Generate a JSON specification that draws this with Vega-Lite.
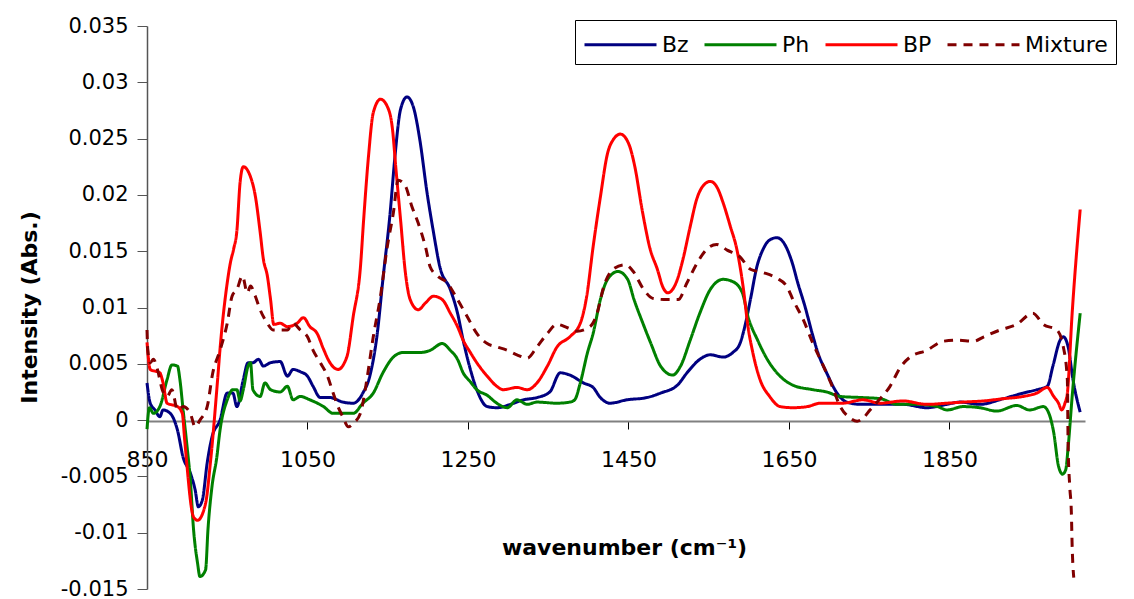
{
"$schema": "https://vega.github.io/schema/vega-lite/v6.json",
"width": 938, "height": 563,
"autosize": {"type": "none"},
"padding": {"left": 147, "top": 26, "right": 49, "bottom": 10},
"background": "white",
"config": {"view": {"stroke": null}, "font": "DejaVu Sans"},
"data": {"values": [
{"series":"Bz","wn":850,"abs":0.0033},{"series":"Bz","wn":854,"abs":0.0015},{"series":"Bz","wn":860,"abs":0.0009},{"series":"Bz","wn":866,"abs":0.0003},{"series":"Bz","wn":870,"abs":0.0009},{"series":"Bz","wn":879,"abs":0.0006},{"series":"Bz","wn":888,"abs":-0.0009},{"series":"Bz","wn":895,"abs":-0.0033},{"series":"Bz","wn":904,"abs":-0.0047},{"series":"Bz","wn":910,"abs":-0.0062},{"series":"Bz","wn":914,"abs":-0.0077},{"series":"Bz","wn":919,"abs":-0.0071},{"series":"Bz","wn":925,"abs":-0.0038},{"series":"Bz","wn":931,"abs":-0.0015},{"series":"Bz","wn":941,"abs":0.0},{"series":"Bz","wn":950,"abs":0.0024},{"series":"Bz","wn":957,"abs":0.0024},{"series":"Bz","wn":962,"abs":0.0012},{"series":"Bz","wn":970,"abs":0.0036},{"series":"Bz","wn":976,"abs":0.0051},{"series":"Bz","wn":982,"abs":0.0051},{"series":"Bz","wn":989,"abs":0.0054},{"series":"Bz","wn":995,"abs":0.0048},{"series":"Bz","wn":1004,"abs":0.0051},{"series":"Bz","wn":1016,"abs":0.0052},{"series":"Bz","wn":1025,"abs":0.0039},{"series":"Bz","wn":1032,"abs":0.0045},{"series":"Bz","wn":1041,"abs":0.0043},{"series":"Bz","wn":1050,"abs":0.0039},{"series":"Bz","wn":1057,"abs":0.003},{"series":"Bz","wn":1066,"abs":0.002},{"series":"Bz","wn":1078,"abs":0.002},{"series":"Bz","wn":1094,"abs":0.0016},{"series":"Bz","wn":1107,"abs":0.0015},{"series":"Bz","wn":1119,"abs":0.0024},{"series":"Bz","wn":1128,"abs":0.004},{"series":"Bz","wn":1137,"abs":0.0077},{"series":"Bz","wn":1144,"abs":0.0125},{"series":"Bz","wn":1153,"abs":0.0184},{"series":"Bz","wn":1159,"abs":0.0234},{"series":"Bz","wn":1166,"abs":0.0276},{"series":"Bz","wn":1174,"abs":0.0287},{"series":"Bz","wn":1182,"abs":0.0278},{"series":"Bz","wn":1190,"abs":0.0249},{"series":"Bz","wn":1199,"abs":0.0202},{"series":"Bz","wn":1207,"abs":0.0167},{"series":"Bz","wn":1215,"abs":0.0136},{"series":"Bz","wn":1228,"abs":0.0116},{"series":"Bz","wn":1237,"abs":0.0095},{"series":"Bz","wn":1244,"abs":0.0071},{"series":"Bz","wn":1253,"abs":0.0045},{"series":"Bz","wn":1261,"abs":0.0027},{"series":"Bz","wn":1274,"abs":0.0012},{"series":"Bz","wn":1286,"abs":0.0011},{"series":"Bz","wn":1303,"abs":0.0014},{"series":"Bz","wn":1319,"abs":0.0018},{"series":"Bz","wn":1336,"abs":0.002},{"series":"Bz","wn":1352,"abs":0.0025},{"series":"Bz","wn":1365,"abs":0.0042},{"series":"Bz","wn":1377,"abs":0.004},{"series":"Bz","wn":1394,"abs":0.0033},{"series":"Bz","wn":1406,"abs":0.0029},{"series":"Bz","wn":1415,"abs":0.002},{"series":"Bz","wn":1427,"abs":0.0015},{"series":"Bz","wn":1448,"abs":0.0018},{"series":"Bz","wn":1473,"abs":0.002},{"series":"Bz","wn":1490,"abs":0.0024},{"series":"Bz","wn":1511,"abs":0.0031},{"series":"Bz","wn":1523,"abs":0.0042},{"series":"Bz","wn":1539,"abs":0.0054},{"series":"Bz","wn":1552,"abs":0.0058},{"series":"Bz","wn":1568,"abs":0.0056},{"series":"Bz","wn":1580,"abs":0.006},{"series":"Bz","wn":1589,"abs":0.0068},{"series":"Bz","wn":1595,"abs":0.0083},{"series":"Bz","wn":1602,"abs":0.0107},{"series":"Bz","wn":1610,"abs":0.0136},{"series":"Bz","wn":1618,"abs":0.0152},{"series":"Bz","wn":1626,"abs":0.016},{"series":"Bz","wn":1635,"abs":0.0162},{"series":"Bz","wn":1643,"abs":0.0158},{"series":"Bz","wn":1654,"abs":0.014},{"series":"Bz","wn":1661,"abs":0.0122},{"series":"Bz","wn":1670,"abs":0.0101},{"series":"Bz","wn":1679,"abs":0.0077},{"series":"Bz","wn":1686,"abs":0.006},{"series":"Bz","wn":1697,"abs":0.0042},{"series":"Bz","wn":1710,"abs":0.0024},{"series":"Bz","wn":1722,"abs":0.0016},{"series":"Bz","wn":1739,"abs":0.0014},{"series":"Bz","wn":1763,"abs":0.0014},{"series":"Bz","wn":1792,"abs":0.0014},{"series":"Bz","wn":1822,"abs":0.0011},{"series":"Bz","wn":1847,"abs":0.0014},{"series":"Bz","wn":1863,"abs":0.0016},{"series":"Bz","wn":1888,"abs":0.0014},{"series":"Bz","wn":1917,"abs":0.0019},{"series":"Bz","wn":1942,"abs":0.0024},{"series":"Bz","wn":1959,"abs":0.0027},{"series":"Bz","wn":1972,"abs":0.003},{"series":"Bz","wn":1979,"abs":0.0048},{"series":"Bz","wn":1988,"abs":0.0071},{"series":"Bz","wn":1992,"abs":0.0074},{"series":"Bz","wn":1998,"abs":0.0065},{"series":"Bz","wn":2004,"abs":0.0036},{"series":"Bz","wn":2013,"abs":0.0007},
{"series":"Ph","wn":850,"abs":-0.0008},{"series":"Ph","wn":853,"abs":0.0011},{"series":"Ph","wn":858,"abs":0.0006},{"series":"Ph","wn":866,"abs":0.0012},{"series":"Ph","wn":875,"abs":0.0036},{"series":"Ph","wn":881,"abs":0.0049},{"series":"Ph","wn":888,"abs":0.0048},{"series":"Ph","wn":891,"abs":0.0036},{"series":"Ph","wn":895,"abs":0.0009},{"series":"Ph","wn":900,"abs":-0.0024},{"series":"Ph","wn":904,"abs":-0.0053},{"series":"Ph","wn":908,"abs":-0.0097},{"series":"Ph","wn":913,"abs":-0.0127},{"series":"Ph","wn":916,"abs":-0.0139},{"series":"Ph","wn":923,"abs":-0.0133},{"series":"Ph","wn":926,"abs":-0.0097},{"series":"Ph","wn":931,"abs":-0.0059},{"series":"Ph","wn":937,"abs":-0.0033},{"series":"Ph","wn":941,"abs":-0.0009},{"series":"Ph","wn":950,"abs":0.0018},{"series":"Ph","wn":957,"abs":0.0027},{"series":"Ph","wn":962,"abs":0.0027},{"series":"Ph","wn":966,"abs":0.0017},{"series":"Ph","wn":970,"abs":0.0027},{"series":"Ph","wn":976,"abs":0.0048},{"series":"Ph","wn":979,"abs":0.0051},{"series":"Ph","wn":982,"abs":0.0027},{"series":"Ph","wn":991,"abs":0.0021},{"series":"Ph","wn":997,"abs":0.0033},{"series":"Ph","wn":1004,"abs":0.0027},{"series":"Ph","wn":1016,"abs":0.0025},{"series":"Ph","wn":1025,"abs":0.003},{"series":"Ph","wn":1032,"abs":0.0018},{"series":"Ph","wn":1041,"abs":0.0021},{"series":"Ph","wn":1053,"abs":0.0018},{"series":"Ph","wn":1070,"abs":0.0012},{"series":"Ph","wn":1082,"abs":0.0006},{"series":"Ph","wn":1094,"abs":0.0006},{"series":"Ph","wn":1107,"abs":0.0006},{"series":"Ph","wn":1119,"abs":0.0015},{"series":"Ph","wn":1132,"abs":0.0024},{"series":"Ph","wn":1144,"abs":0.0042},{"series":"Ph","wn":1157,"abs":0.0056},{"series":"Ph","wn":1169,"abs":0.006},{"series":"Ph","wn":1190,"abs":0.006},{"series":"Ph","wn":1203,"abs":0.0062},{"series":"Ph","wn":1218,"abs":0.0068},{"series":"Ph","wn":1228,"abs":0.0062},{"series":"Ph","wn":1237,"abs":0.0054},{"series":"Ph","wn":1244,"abs":0.0042},{"series":"Ph","wn":1253,"abs":0.0034},{"series":"Ph","wn":1261,"abs":0.0027},{"series":"Ph","wn":1274,"abs":0.0022},{"series":"Ph","wn":1286,"abs":0.0015},{"series":"Ph","wn":1299,"abs":0.0011},{"series":"Ph","wn":1311,"abs":0.0018},{"series":"Ph","wn":1324,"abs":0.0014},{"series":"Ph","wn":1336,"abs":0.0016},{"series":"Ph","wn":1361,"abs":0.0015},{"series":"Ph","wn":1377,"abs":0.0016},{"series":"Ph","wn":1383,"abs":0.0018},{"series":"Ph","wn":1390,"abs":0.0033},{"series":"Ph","wn":1399,"abs":0.006},{"series":"Ph","wn":1406,"abs":0.0077},{"series":"Ph","wn":1415,"abs":0.0107},{"series":"Ph","wn":1424,"abs":0.0125},{"series":"Ph","wn":1437,"abs":0.0132},{"series":"Ph","wn":1449,"abs":0.0125},{"series":"Ph","wn":1457,"abs":0.0107},{"series":"Ph","wn":1468,"abs":0.0086},{"series":"Ph","wn":1478,"abs":0.0068},{"series":"Ph","wn":1490,"abs":0.0048},{"series":"Ph","wn":1505,"abs":0.004},{"series":"Ph","wn":1515,"abs":0.0048},{"series":"Ph","wn":1527,"abs":0.0071},{"series":"Ph","wn":1539,"abs":0.0095},{"series":"Ph","wn":1552,"abs":0.0116},{"series":"Ph","wn":1568,"abs":0.0125},{"series":"Ph","wn":1580,"abs":0.0123},{"series":"Ph","wn":1592,"abs":0.0113},{"series":"Ph","wn":1599,"abs":0.0092},{"series":"Ph","wn":1611,"abs":0.0071},{"series":"Ph","wn":1623,"abs":0.0054},{"series":"Ph","wn":1639,"abs":0.0039},{"series":"Ph","wn":1655,"abs":0.0031},{"series":"Ph","wn":1680,"abs":0.0027},{"series":"Ph","wn":1697,"abs":0.0025},{"series":"Ph","wn":1714,"abs":0.0021},{"series":"Ph","wn":1742,"abs":0.002},{"series":"Ph","wn":1764,"abs":0.0019},{"series":"Ph","wn":1785,"abs":0.0014},{"series":"Ph","wn":1810,"abs":0.0014},{"series":"Ph","wn":1835,"abs":0.0012},{"series":"Ph","wn":1847,"abs":0.0009},{"series":"Ph","wn":1867,"abs":0.0012},{"series":"Ph","wn":1888,"abs":0.0011},{"series":"Ph","wn":1909,"abs":0.0008},{"series":"Ph","wn":1934,"abs":0.0013},{"series":"Ph","wn":1950,"abs":0.0009},{"series":"Ph","wn":1967,"abs":0.0012},{"series":"Ph","wn":1972,"abs":0.0009},{"series":"Ph","wn":1980,"abs":-0.0011},{"series":"Ph","wn":1986,"abs":-0.0041},{"series":"Ph","wn":1991,"abs":-0.0048},{"series":"Ph","wn":1995,"abs":-0.0044},{"series":"Ph","wn":1998,"abs":-0.0024},{"series":"Ph","wn":2003,"abs":0.0021},{"series":"Ph","wn":2013,"abs":0.0095},
{"series":"BP","wn":850,"abs":0.0069},{"series":"BP","wn":854,"abs":0.0045},{"series":"BP","wn":866,"abs":0.0042},{"series":"BP","wn":870,"abs":0.0033},{"series":"BP","wn":875,"abs":0.0015},{"series":"BP","wn":888,"abs":0.0012},{"series":"BP","wn":894,"abs":0.0006},{"series":"BP","wn":897,"abs":-0.0018},{"series":"BP","wn":908,"abs":-0.0086},{"series":"BP","wn":913,"abs":-0.0089},{"series":"BP","wn":923,"abs":-0.0074},{"series":"BP","wn":929,"abs":-0.0038},{"series":"BP","wn":938,"abs":0.0036},{"series":"BP","wn":941,"abs":0.0063},{"series":"BP","wn":950,"abs":0.0122},{"series":"BP","wn":954,"abs":0.014},{"series":"BP","wn":958,"abs":0.0152},{"series":"BP","wn":962,"abs":0.0168},{"series":"BP","wn":966,"abs":0.0211},{"series":"BP","wn":970,"abs":0.0225},{"series":"BP","wn":979,"abs":0.0216},{"series":"BP","wn":985,"abs":0.0199},{"series":"BP","wn":991,"abs":0.0167},{"series":"BP","wn":995,"abs":0.0143},{"series":"BP","wn":1000,"abs":0.0128},{"series":"BP","wn":1004,"abs":0.0107},{"series":"BP","wn":1008,"abs":0.0085},{"series":"BP","wn":1016,"abs":0.0086},{"series":"BP","wn":1025,"abs":0.0083},{"series":"BP","wn":1037,"abs":0.0086},{"series":"BP","wn":1045,"abs":0.0091},{"series":"BP","wn":1053,"abs":0.0083},{"series":"BP","wn":1062,"abs":0.0077},{"series":"BP","wn":1070,"abs":0.0063},{"series":"BP","wn":1078,"abs":0.0051},{"series":"BP","wn":1088,"abs":0.0045},{"series":"BP","wn":1099,"abs":0.0056},{"series":"BP","wn":1107,"abs":0.0092},{"series":"BP","wn":1116,"abs":0.0136},{"series":"BP","wn":1120,"abs":0.0178},{"series":"BP","wn":1126,"abs":0.0234},{"series":"BP","wn":1132,"abs":0.0273},{"series":"BP","wn":1141,"abs":0.0285},{"series":"BP","wn":1151,"abs":0.0276},{"series":"BP","wn":1156,"abs":0.0258},{"series":"BP","wn":1160,"abs":0.0225},{"series":"BP","wn":1166,"abs":0.0178},{"series":"BP","wn":1172,"abs":0.0131},{"series":"BP","wn":1178,"abs":0.0107},{"series":"BP","wn":1188,"abs":0.0098},{"series":"BP","wn":1197,"abs":0.0104},{"series":"BP","wn":1207,"abs":0.011},{"series":"BP","wn":1218,"abs":0.0107},{"series":"BP","wn":1228,"abs":0.0095},{"series":"BP","wn":1237,"abs":0.0083},{"series":"BP","wn":1244,"abs":0.0071},{"series":"BP","wn":1253,"abs":0.006},{"series":"BP","wn":1261,"abs":0.0051},{"series":"BP","wn":1274,"abs":0.0039},{"series":"BP","wn":1286,"abs":0.003},{"series":"BP","wn":1294,"abs":0.0027},{"series":"BP","wn":1311,"abs":0.0029},{"series":"BP","wn":1324,"abs":0.0027},{"series":"BP","wn":1336,"abs":0.0033},{"series":"BP","wn":1349,"abs":0.0048},{"series":"BP","wn":1361,"abs":0.0065},{"series":"BP","wn":1377,"abs":0.0074},{"series":"BP","wn":1390,"abs":0.0086},{"series":"BP","wn":1398,"abs":0.011},{"series":"BP","wn":1406,"abs":0.0154},{"series":"BP","wn":1415,"abs":0.0198},{"series":"BP","wn":1424,"abs":0.0237},{"series":"BP","wn":1431,"abs":0.0249},{"series":"BP","wn":1440,"abs":0.0254},{"series":"BP","wn":1450,"abs":0.0246},{"series":"BP","wn":1458,"abs":0.0225},{"series":"BP","wn":1467,"abs":0.0187},{"series":"BP","wn":1477,"abs":0.0152},{"series":"BP","wn":1486,"abs":0.0134},{"series":"BP","wn":1493,"abs":0.0118},{"series":"BP","wn":1499,"abs":0.0113},{"series":"BP","wn":1511,"abs":0.0125},{"series":"BP","wn":1518,"abs":0.0143},{"series":"BP","wn":1527,"abs":0.0172},{"series":"BP","wn":1535,"abs":0.0196},{"series":"BP","wn":1543,"abs":0.0208},{"series":"BP","wn":1552,"abs":0.0212},{"series":"BP","wn":1561,"abs":0.0206},{"series":"BP","wn":1568,"abs":0.0193},{"series":"BP","wn":1577,"abs":0.0172},{"series":"BP","wn":1585,"abs":0.0152},{"series":"BP","wn":1593,"abs":0.0118},{"series":"BP","wn":1599,"abs":0.0083},{"series":"BP","wn":1605,"abs":0.006},{"series":"BP","wn":1614,"abs":0.0036},{"series":"BP","wn":1626,"abs":0.0021},{"series":"BP","wn":1639,"abs":0.0012},{"series":"BP","wn":1655,"abs":0.0011},{"series":"BP","wn":1673,"abs":0.0012},{"series":"BP","wn":1689,"abs":0.0015},{"series":"BP","wn":1717,"abs":0.0015},{"series":"BP","wn":1742,"abs":0.0018},{"series":"BP","wn":1764,"abs":0.0015},{"series":"BP","wn":1792,"abs":0.0017},{"series":"BP","wn":1822,"abs":0.0014},{"series":"BP","wn":1847,"abs":0.0015},{"series":"BP","wn":1867,"abs":0.0016},{"series":"BP","wn":1892,"abs":0.0017},{"series":"BP","wn":1917,"abs":0.0019},{"series":"BP","wn":1942,"abs":0.0021},{"series":"BP","wn":1959,"abs":0.0024},{"series":"BP","wn":1972,"abs":0.0029},{"series":"BP","wn":1980,"abs":0.0021},{"series":"BP","wn":1986,"abs":0.0015},{"series":"BP","wn":1990,"abs":0.0009},{"series":"BP","wn":1994,"abs":0.0015},{"series":"BP","wn":1997,"abs":0.0024},{"series":"BP","wn":2003,"abs":0.0095},{"series":"BP","wn":2013,"abs":0.0187},
{"series":"Mixture","wn":850,"abs":0.008},{"series":"Mixture","wn":851,"abs":0.0062},{"series":"Mixture","wn":854,"abs":0.0051},{"series":"Mixture","wn":858,"abs":0.0054},{"series":"Mixture","wn":863,"abs":0.0045},{"series":"Mixture","wn":869,"abs":0.0027},{"series":"Mixture","wn":875,"abs":0.0021},{"series":"Mixture","wn":881,"abs":0.0027},{"series":"Mixture","wn":888,"abs":0.0009},{"series":"Mixture","wn":895,"abs":0.0012},{"series":"Mixture","wn":904,"abs":0.0006},{"series":"Mixture","wn":910,"abs":-0.0006},{"series":"Mixture","wn":916,"abs":0.0},{"series":"Mixture","wn":925,"abs":0.0012},{"series":"Mixture","wn":932,"abs":0.0042},{"series":"Mixture","wn":941,"abs":0.0062},{"series":"Mixture","wn":950,"abs":0.0086},{"series":"Mixture","wn":956,"abs":0.011},{"series":"Mixture","wn":962,"abs":0.0116},{"series":"Mixture","wn":969,"abs":0.0128},{"series":"Mixture","wn":975,"abs":0.0113},{"series":"Mixture","wn":979,"abs":0.0119},{"series":"Mixture","wn":985,"abs":0.011},{"series":"Mixture","wn":991,"abs":0.0098},{"series":"Mixture","wn":1000,"abs":0.0086},{"series":"Mixture","wn":1007,"abs":0.008},{"series":"Mixture","wn":1016,"abs":0.008},{"series":"Mixture","wn":1025,"abs":0.008},{"series":"Mixture","wn":1032,"abs":0.0086},{"series":"Mixture","wn":1041,"abs":0.008},{"series":"Mixture","wn":1050,"abs":0.0074},{"series":"Mixture","wn":1057,"abs":0.0062},{"series":"Mixture","wn":1066,"abs":0.0051},{"series":"Mixture","wn":1075,"abs":0.0039},{"series":"Mixture","wn":1082,"abs":0.0024},{"series":"Mixture","wn":1088,"abs":0.0012},{"series":"Mixture","wn":1094,"abs":0.0003},{"series":"Mixture","wn":1101,"abs":-0.0006},{"series":"Mixture","wn":1107,"abs":-0.0003},{"series":"Mixture","wn":1116,"abs":0.0006},{"series":"Mixture","wn":1119,"abs":0.0015},{"series":"Mixture","wn":1124,"abs":0.0036},{"series":"Mixture","wn":1132,"abs":0.0074},{"series":"Mixture","wn":1141,"abs":0.011},{"series":"Mixture","wn":1149,"abs":0.0152},{"series":"Mixture","wn":1157,"abs":0.0184},{"series":"Mixture","wn":1163,"abs":0.0213},{"series":"Mixture","wn":1172,"abs":0.0208},{"series":"Mixture","wn":1180,"abs":0.019},{"series":"Mixture","wn":1188,"abs":0.0175},{"series":"Mixture","wn":1197,"abs":0.0154},{"series":"Mixture","wn":1203,"abs":0.0136},{"series":"Mixture","wn":1212,"abs":0.0128},{"series":"Mixture","wn":1224,"abs":0.0122},{"series":"Mixture","wn":1237,"abs":0.0107},{"series":"Mixture","wn":1249,"abs":0.0092},{"series":"Mixture","wn":1261,"abs":0.0077},{"series":"Mixture","wn":1274,"abs":0.0068},{"series":"Mixture","wn":1286,"abs":0.0065},{"series":"Mixture","wn":1299,"abs":0.0062},{"series":"Mixture","wn":1311,"abs":0.0058},{"series":"Mixture","wn":1324,"abs":0.0055},{"series":"Mixture","wn":1336,"abs":0.0065},{"series":"Mixture","wn":1349,"abs":0.0077},{"series":"Mixture","wn":1361,"abs":0.0085},{"series":"Mixture","wn":1374,"abs":0.0082},{"series":"Mixture","wn":1386,"abs":0.0079},{"series":"Mixture","wn":1402,"abs":0.0083},{"series":"Mixture","wn":1411,"abs":0.0095},{"series":"Mixture","wn":1419,"abs":0.0118},{"series":"Mixture","wn":1431,"abs":0.0134},{"series":"Mixture","wn":1446,"abs":0.0138},{"series":"Mixture","wn":1456,"abs":0.0132},{"series":"Mixture","wn":1469,"abs":0.0116},{"series":"Mixture","wn":1481,"abs":0.0108},{"series":"Mixture","wn":1498,"abs":0.0107},{"series":"Mixture","wn":1512,"abs":0.0107},{"series":"Mixture","wn":1523,"abs":0.0122},{"series":"Mixture","wn":1536,"abs":0.014},{"series":"Mixture","wn":1548,"abs":0.0152},{"series":"Mixture","wn":1560,"abs":0.0156},{"series":"Mixture","wn":1573,"abs":0.0151},{"series":"Mixture","wn":1589,"abs":0.0145},{"series":"Mixture","wn":1602,"abs":0.0134},{"series":"Mixture","wn":1618,"abs":0.0131},{"series":"Mixture","wn":1635,"abs":0.0126},{"series":"Mixture","wn":1648,"abs":0.0118},{"series":"Mixture","wn":1655,"abs":0.0107},{"series":"Mixture","wn":1668,"abs":0.0089},{"series":"Mixture","wn":1680,"abs":0.0068},{"series":"Mixture","wn":1693,"abs":0.0048},{"series":"Mixture","wn":1704,"abs":0.003},{"series":"Mixture","wn":1714,"abs":0.0012},{"series":"Mixture","wn":1726,"abs":0.0002},{"series":"Mixture","wn":1735,"abs":-0.0001},{"series":"Mixture","wn":1743,"abs":0.0002},{"series":"Mixture","wn":1751,"abs":0.0009},{"series":"Mixture","wn":1760,"abs":0.0016},{"series":"Mixture","wn":1776,"abs":0.003},{"series":"Mixture","wn":1789,"abs":0.0047},{"series":"Mixture","wn":1801,"abs":0.0056},{"series":"Mixture","wn":1822,"abs":0.0062},{"series":"Mixture","wn":1842,"abs":0.007},{"series":"Mixture","wn":1860,"abs":0.0071},{"series":"Mixture","wn":1880,"abs":0.007},{"series":"Mixture","wn":1893,"abs":0.0074},{"series":"Mixture","wn":1913,"abs":0.008},{"series":"Mixture","wn":1934,"abs":0.0085},{"series":"Mixture","wn":1954,"abs":0.0095},{"series":"Mixture","wn":1967,"abs":0.0085},{"series":"Mixture","wn":1984,"abs":0.008},{"series":"Mixture","wn":1992,"abs":0.0065},{"series":"Mixture","wn":1997,"abs":0.0036},{"series":"Mixture","wn":1998,"abs":-0.0024},{"series":"Mixture","wn":2000,"abs":-0.0059},{"series":"Mixture","wn":2002,"abs":-0.0082},{"series":"Mixture","wn":2003,"abs":-0.0112},{"series":"Mixture","wn":2005,"abs":-0.014}
]},
"mark": {"type": "line", "interpolate": "monotone"},
"encoding": {
"x": {"field": "wn", "type": "quantitative", "scale": {"domain": [850, 2019], "nice": false, "zero": false},
 "axis": {"values": [850,1050,1250,1450,1650,1850], "format": "d", "offset": -168, "title": "wavenumber (cm⁻¹)", "grid": false, "domainColor": "#808080", "domainWidth": 2, "tickColor": "#000000", "tickSize": 8, "tickWidth": 1, "labelFontSize": 22, "labelFont": "DejaVu Sans", "labelColor": "#000000", "labelPadding": 37, "labelBaseline": "alphabetic", "labelFlush": false, "labelOverlap": false, "titleFontSize": 22, "titleFont": "DejaVu Sans", "titleFontWeight": "bold", "titleColor": "#000000", "titleX": 477, "titleY": 133, "titleBaseline": "alphabetic", "titleAlign": "center"}},
"y": {"field": "abs", "type": "quantitative", "scale": {"domain": [-0.015, 0.035], "nice": false, "zero": false},
 "axis": {"values": [-0.015,-0.01,-0.005,0,0.005,0.01,0.015,0.02,0.025,0.03,0.035], "format": "~g", "labelExpr": "replace(datum.label, '−', '-')", "grid": false, "domainColor": "#555555", "domainWidth": 1.5, "tickColor": "#555555", "tickSize": 10, "tickWidth": 1, "labelFontSize": 21, "labelFont": "DejaVu Sans", "labelColor": "#000000", "labelPadding": 9, "labelOverlap": false, "title": "Intensity (Abs.)", "titleFontSize": 22, "titleFont": "DejaVu Sans", "titleFontWeight": "bold", "titleColor": "#000000", "titleAngle": -90, "titleX": -118, "titleY": 281, "titleAlign": "center", "titleBaseline": "middle"}},
"color": {"field": "series", "type": "nominal", "scale": {"domain": ["Bz","Ph","BP","Mixture"], "range": ["#000080","#008000","#FF0000","#800000"]},
 "legend": {"title": null, "orient": "none", "legendX": 428, "legendY": -6, "direction": "horizontal", "symbolType": "M-1,0L3.8,0", "symbolSize": 900, "symbolStrokeWidth": 3, "labelFontSize": 22, "labelFont": "DejaVu Sans", "labelColor": "#000000", "labelOffset": 46, "columnPadding": 9, "padding": 8, "strokeColor": "#000000", "fillColor": "#ffffff", "labelLimit": 0}},
"strokeDash": {"field": "series", "type": "nominal", "scale": {"domain": ["Bz","Ph","BP","Mixture"], "range": [[1,0],[1,0],[1,0],[9,7]]}},
"strokeWidth": {"field": "series", "type": "nominal", "scale": {"domain": ["Bz","Ph","BP","Mixture"], "range": [3,3,3,4]}, "legend": null}
}
}
